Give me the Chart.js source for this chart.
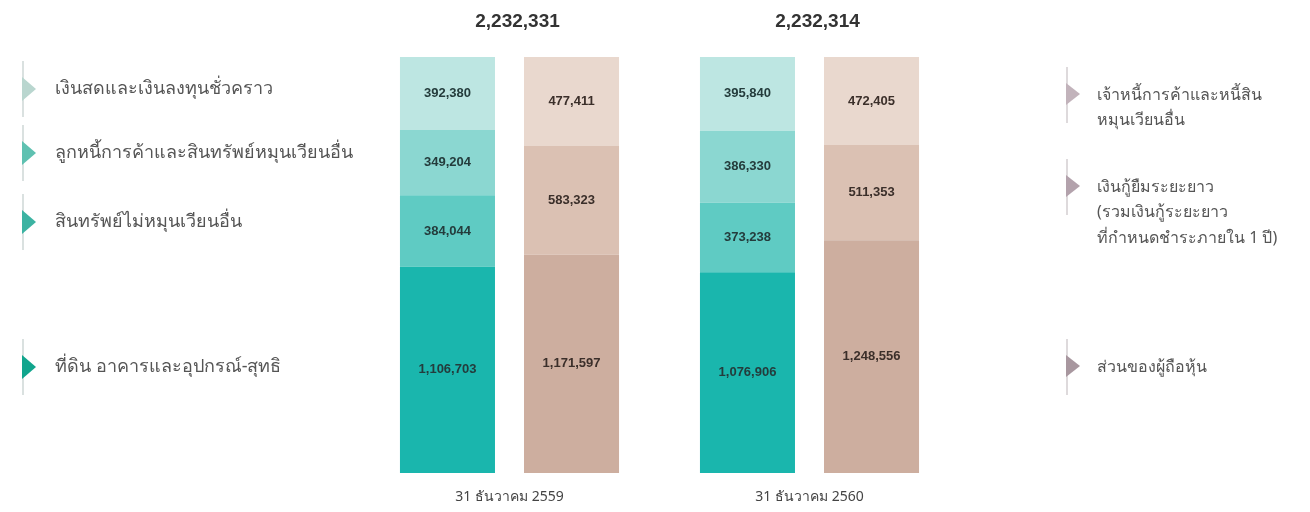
<!DOCTYPE html>
<html>
<head>
<meta charset="utf-8">
<script src="https://cdn.jsdelivr.net/npm/chart.js@4.4.0/dist/chart.umd.min.js"></script>
<style>
  body { margin: 0; background: #fff; }
  #wrap { width: 1310px; height: 512px; }
</style>
</head>
<body>
<div id="wrap"><canvas id="myChart" width="1310" height="512"></canvas></div>
<script>
// data (thousand baht)
const periods = ['31 ธันวาคม 2559', '31 ธันวาคม 2560'];

const cashInvest = [392380, 395840];
const receivables = [349204, 386330];
const nonCurrent = [384044, 373238];
const ppe = [1106703, 1076906];

const payables = [477411, 472405];
const longLoans = [583323, 511353];
const equity = [1171597, 1248556];

const assetNames = ['เงินสดและเงินลงทุนชั่วคราว', 'ลูกหนี้การค้าและสินทรัพย์หมุนเวียนอื่น', 'สินทรัพย์ไม่หมุนเวียนอื่น', 'ที่ดิน อาคารและอุปกรณ์-สุทธิ'];
const liabNames = [
    ['เจ้าหนี้การค้าและหนี้สิน', 'หมุนเวียนอื่น'],
    ['เงินกู้ยืมระยะยาว', '(รวมเงินกู้ระยะยาว', 'ที่กำหนดชำระภายใน 1 ปี)'],
    ['ส่วนของผู้ถือหุ้น']
];

const fmt = v => v.toLocaleString('en-US');
const totals = periods.map((p, i) => payables[i] + longLoans[i] + equity[i]);

const ctx = document.getElementById('myChart');

// side legends + totals on top
const sideLegendPlugin = {
    id: 'sideLegend',
    afterDraw(chart) {
        const c = chart.ctx;
        const x = chart.scales.x;
        c.save();

        // totals
        c.font = 'bold 19px "Liberation Sans", Arial, sans-serif';
        c.fillStyle = '#333';
        c.textAlign = 'center';
        c.textBaseline = 'middle';
        totals.forEach((t, i) => {
            c.fillText(fmt(t), x.getPixelForValue(i) + 8, 22);
        });

        c.textAlign = 'left';

        // left side
        c.font = '18px "Noto Sans", sans-serif';
        const leftY = [89, 153, 222, 367];
        const leftCol = ['#b9d6cf', '#5fc1b1', '#3cb3a2', '#11a58d'];
        assetNames.forEach((name, i) => {
            const y = leftY[i];
            c.strokeStyle = 'rgba(150,170,165,0.35)';
            c.lineWidth = 2;
            c.beginPath();
            c.moveTo(23, y - 28);
            c.lineTo(23, y + 28);
            c.stroke();
            c.fillStyle = leftCol[i];
            c.beginPath();
            c.moveTo(22, y - 12);
            c.lineTo(36, y);
            c.lineTo(22, y + 12);
            c.closePath();
            c.fill();
            c.fillStyle = '#555';
            c.fillText(name, 55, y);
        });

        // right side
        c.font = '16px "Noto Sans", sans-serif';
        const rightY = [95, 187, 367];
        const rightCol = ['#c2b3bb', '#b3a2ac', '#a8979f'];
        liabNames.forEach((lines, i) => {
            const y = rightY[i];
            c.strokeStyle = 'rgba(160,150,155,0.35)';
            c.lineWidth = 2;
            c.beginPath();
            c.moveTo(1067, y - 28);
            c.lineTo(1067, y + 28);
            c.stroke();
            c.fillStyle = rightCol[i];
            c.beginPath();
            c.moveTo(1066, y - 12);
            c.lineTo(1080, y - 1);
            c.lineTo(1066, y + 10);
            c.closePath();
            c.fill();
            c.fillStyle = '#555';
            lines.forEach((ln, j) => c.fillText(ln, 1097, y + j * 25.5));
        });
        c.restore();
    }
};

// numbers inside each segment
const segmentLabelPlugin = {
    id: 'segmentLabels',
    afterDatasetsDraw(chart) {
        const c = chart.ctx;
        c.save();
        c.font = 'bold 13px "Liberation Sans", Arial, sans-serif';
        c.textAlign = 'center';
        c.textBaseline = 'middle';
        chart.data.datasets.forEach((ds, di) => {
            const meta = chart.getDatasetMeta(di);
            meta.data.forEach((bar, i) => {
                c.fillStyle = ds.stack === 'assets' ? '#243c3c' : '#3b2f2a';
                c.fillText(fmt(ds.data[i]), bar.x, (bar.y + bar.base) / 2);
            });
        });
        c.restore();
    }
};

new Chart(ctx, {
    type: 'bar',
    plugins: [sideLegendPlugin, segmentLabelPlugin],
    data: {
        labels: periods,
        datasets: [
            { label: assetNames[3], data: ppe, stack: 'assets', backgroundColor: '#1ab6ad' },
            { label: assetNames[2], data: nonCurrent, stack: 'assets', backgroundColor: '#5fcbc3' },
            { label: assetNames[1], data: receivables, stack: 'assets', backgroundColor: '#8bd7d1' },
            { label: assetNames[0], data: cashInvest, stack: 'assets', backgroundColor: '#bde6e2' },
            { label: liabNames[2][0], data: equity, stack: 'liab', backgroundColor: '#cdae9f' },
            { label: liabNames[1][0], data: longLoans, stack: 'liab', backgroundColor: '#dbc1b3' },
            { label: liabNames[0][0], data: payables, stack: 'liab', backgroundColor: '#e9d8ce' }
        ]
    },
    options: {
        responsive: false,
        animation: false,
        categoryPercentage: 0.827,
        barPercentage: 0.766,
        layout: {
            padding: { left: 359.5, right: 350.5, top: 57, bottom: 0 }
        },
        plugins: {
            legend: { display: false },
            tooltip: { enabled: false }
        },
        scales: {
            x: {
                stacked: true,
                grid: { display: false },
                border: { display: false },
                afterFit: s => { s.height = 39; },
                ticks: {
                    color: '#444',
                    padding: 8,
                    font: { size: 14, family: '"Noto Sans", sans-serif' }
                }
            },
            y: {
                stacked: true,
                display: false,
                min: 0,
                max: Math.max(...totals)
            }
        }
    }
});
</script>
</body>
</html>
